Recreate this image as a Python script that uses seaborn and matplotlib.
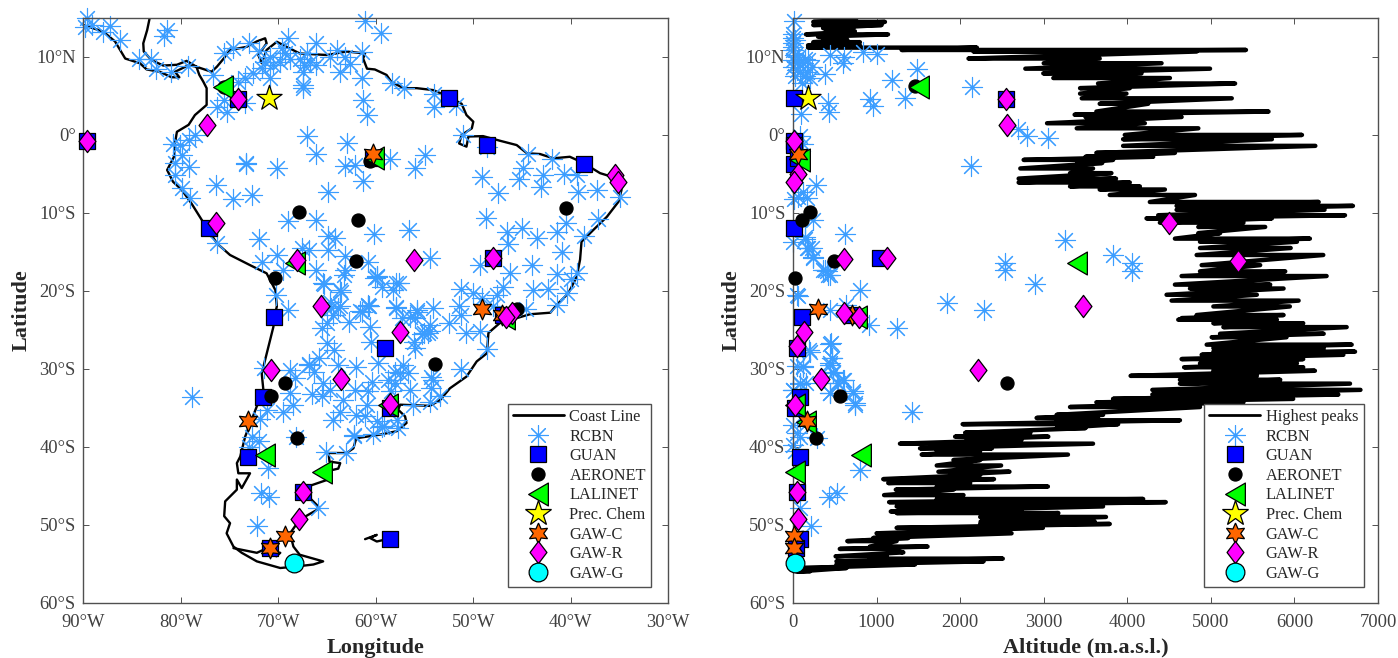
import numpy as np
import pandas as pd
import matplotlib
matplotlib.use("Agg")
import matplotlib.pyplot as plt
from matplotlib.lines import Line2D
from matplotlib.path import Path
import seaborn as sns

sns.set_theme(style="white")
plt.rcParams['font.family'] = ['Liberation Serif', 'DejaVu Serif']

# ---------- coast ----------
coast_lon = [-83.2,-83.45,-83.85,-83.8,-83,-81.8,-80.4,-79.4,-78.4,-78.1,-77.7,-77.35,-77.35,-78.55,-79.2,-80.4,-80.6,-80.7,-81.4,-80.8,-79.9,-78.9,-77.85,-76.3,-74.95,-72.9,-71.2,-70.3,-70.15,-70.4,
 -70.5,-70.5,-71,-71.7,-71.5,-72.2,-73.4,-73.9,-74.25,-74.1,-72.9,-73.75,-74.25,-74.25,-75.45,-75.55,-74.95,-75.3,-74.6,-73.75,-72.2,-69.8,-68.1,-66.4,-65.4,-67.8,-68.45,-68.8,-67.8,-66.05,-65.9,-66.9,-66.75,-65,-64.7,-63.85,-63.65,-64.75,-64.85,-63,-62.3,-62,
 -59.6,-57.85,-56.85,-57,-57.7,-57.5,-54.45,-53.4,-52.4,-50.7,-49.65,-48.6,-48.45,-47.3,-46.6,
 -45.55,-44.2,-42.1,-41.45,-40.25,-39.4,-39.05,-38.9,-37.7,-36.3,-35.1,-34.8,-35.3,-37,-38.7,-40.1,-41.8,-43.15,-44.5,-45.55,-47.25,-49,-50.5,-50.7,-51.45,-51.2,-50.15,-50,-50.7,-51.2,-52.55,-54.1,-55.8,-57.15,-58.4,-58.9,-60.1,-60.9,-61.3,
 -61.1,-63,-65,-67.8,-69.15,-70.15,-71.2,-71.7,-72.05,-71.2,-71.35,-72.2,-73.25,-74.95,-75.6,-76.3,-76.85,-78.4]
coast_lat = [14.95,13.45,11.75,10.7,9.6,8.9,9,9.5,8.75,7.7,6.85,6,3.85,2.55,1.3,0.4,-1.1,-2.8,-4.5,-6,-7.05,-8.8,-10.9,-13.9,-15.4,-16.7,-17.75,-19.9,-22,-23.3,
 -23.7,-24.6,-27.1,-30.6,-33.1,-34.8,-38.7,-41.25,-42.1,-43.4,-43.4,-45.3,-44.2,-45.5,-47,-48.9,-49.8,-51.1,-52.8,-53.6,-54.7,-55.55,-55.35,-55.1,-54.7,-53.85,-52.8,-51.1,-49.35,-48.1,-47.65,-46.4,-45,-44.25,-43.05,-42.8,-42.1,-41.9,-40.8,-40.8,-40.2,-38.9,
 -38.45,-38,-36.95,-36.1,-35.25,-34.6,-34.75,-34,-32.5,-31,-29.05,-28,-25.4,-24.15,-23.7,
 -23.5,-23,-22.8,-21.8,-20.3,-18.2,-16,-13.7,-12.2,-10.5,-8.55,-7.05,-5.55,-4.9,-3.6,-2.8,-3,-2.45,-2.35,-1.3,-0.75,-0.15,-0.2,-1.5,-1.1,0,0.85,1.7,2.55,4,4.9,5.75,6,6,6.8,7.7,8.4,8.5,9.8,
 10.45,10.7,10.25,10.45,11.3,11.95,10.9,9.2,10.25,11.75,12.4,12,11.3,10.9,9.8,8.75,8.1,8.75]
pacific_lon = [-90,-87.95,-86.75,-85.7,-84.2,-83.5,-82.15,-80.95,-80.15,-80.6,-79.2,-78.4]
pacific_lat = [14.1,13.25,12,9.8,9.2,8.4,8.1,7.4,7.4,8.1,8.95,8.75]
falkland_lon = [-61.1,-59.9,-60.6,-59.9,-59.2]
falkland_lat = [-51.85,-51.3,-51.7,-52.15,-51.95]
strait_lon = [-74.6,-72.2,-71.5,-69.8,-70.2]
strait_lat = [-53,-53.6,-53.2,-53.6,-54.05]

# ---------- highest peaks: latitude rows with low / high altitude ----------
peak_lat = [14.7,14.5,14.1,13.7,13.3,12.9,12.6,12.2,11.9,11.5,11.2,10.9,10.7,9.8,9.2,8.5,7.9,7.3,6.6,6.0,5.3,4.7,4.0,3.0,2.6,2.3,1.5,0.85,0.0,-0.55,-1.4,-2.3,-2.8,-3.2,-3.6,-4.3,-4.9,-5.6,-6.1,-6.6,-7.0,-7.7,-8.6,-9.1,-9.6,-10.3,-10.7,-11.25,-11.8,-12.6,-13.3,-13.7,-14.5,-15.4,-16.7,-17.5,-18.1,-19.2,-19.7,-20.5,-21.25,-22.0,-23.1,-23.5,
 -23.7,-24.15,-24.65,-25.5,-25.95,-26.9,-27.35,-27.8,-28.2,-28.75,-29.3,-29.8,-30.25,-30.9,-31.4,-31.9,-32.7,-33.3,-33.85,-34.3,-34.9,-35.9,-36.3,-36.6,-37.1,-37.6,-38.2,-38.7,-39.1,-39.6,-40.2,-40.5,-41.0,-41.7,-42.4,-43.2,-43.6,-44.15,-44.65,-45.1,-45.5,-46.2,-46.7,-47.1,-47.65,-48.3,-48.5,-49.0,-49.6,-49.9,-50.4,-51.1,-51.7,-52.1,-52.8,-53.1,-53.55,-54.05,-54.35,-54.7,-55.1,-55.55,-56]
peak_low = [523,243,243,360,400,155,300,360,243,180,180,1300,2160,2100,3000,2780,2995,3115,3650,3435,3435,3455,3670,3630,3370,3500,3040,3395,3970,3950,3950,3630,3500,2760,3400,2720,3315,2700,2700,3315,3670,3790,4270,4590,4590,4370,4230,4390,4850,4850,4570,4870,4870,4830,4890,4870,4650,4570,4750,4470,4530,5030,4830,4650,
 4610,5030,5150,5110,5010,4950,5030,5030,4890,4650,4870,4680,5030,4040,4630,4630,4300,4300,3830,3630,3315,3155,2915,3155,2030,3155,2060,1940,2080,1280,1520,1720,1540,1920,1720,1740,1880,1080,1140,1720,1230,1090,1720,1150,1240,1170,1240,2240,2245,2240,1240,1000,960,650,920,560,1320,510,920,520,520,125,45]
peak_high = [755,1100,1060,720,740,1137,520,650,800,800,2200,5420,4830,3670,4410,4990,4170,4510,5290,4030,3990,5250,4250,5690,4100,4650,4210,4850,6090,5730,6250,4570,4310,3830,3700,3590,3810,3865,4030,4150,4450,4810,6290,6700,6360,6605,5730,5390,5650,5110,6185,6030,5955,6345,5590,5890,6385,5710,5870,5550,6050,5945,5870,5770,
 5790,6105,6625,6350,5905,6685,6350,6725,6585,6105,6030,6105,6245,5550,5830,6665,6790,6525,5985,5390,4870,3710,3650,4630,3890,3500,2840,3055,2735,3590,2380,2240,3290,2240,2490,2590,2240,2405,2120,3050,1920,2040,4190,4460,3710,2735,3175,3745,3610,3790,2990,2615,1380,1240,1610,1120,1310,1120,2510,2280,1460,640,200]

# ---------- RCBN ----------
rcbn_lon = [-89.65,-89.8,-89.1,-87.3,-88,-86.2,-81.4,-81.7,-84.3,-83.1,-82.5,-81,-79.3,-76.7,-75.6,-74.6,-73,-69,-66.1,-64,-61.45,-61.1,-59.5,-72,-69.65,-70.85,-71.4,-70.5,-69.8,-68.8,-69.3,-67.8,-67.1,-66.75,-67.4,-66.1,-64.7,-63.2,-62.65,-63.7,-61.45,-67.5,-67.5,-67.5,-70.85,-71.7,-72.6,-73.4,-74.1,-76.3,-75.3,-75.6,-73.4,-61.3,-60.95,
 -78.55,-79.2,-80.1,-80.8,-79.9,-80.6,-79.2,-80.6,-79.9,-79.1,-67.1,-63,-66.1,-73.35,-73.35,-70.1,-63.15,-62.1,-61.35,-64.9,-76.4,-74.6,-72.7,-69,-66.1,-72,-64.9,-64.2,-60.15,-76.3,-70.15,-67.6,-66.9,-64.9,-63.2,-60.8,-71.7,-69.5,-66.1,-63.15,-63.3,-65.3,-63.55,-60.1,-70.2,-69,-64.55,-63.7,-61.45,-60.75,
 -58.3,-57.1,-54,-54,-51.8,-51.1,-48.6,-44.35,-55,-58.5,-56,-49.1,-47.5,-44.9,-45.3,-42.9,-43.1,-41.95,-40.7,-39.4,-39.3,-37.3,-34.95,-37.2,-38.65,-40.5,-41.4,-40.9,-48.7,-46.5,-45,-43.5,-46.4,-44,-49.3,-46.2,-41.45,-39.4,-40,-47,-43.9,-42.3,-40.4,-41.45,-51.25,-50,-49.1,-47.6,-47.95,-44.6,-51.45,-51.25,
 -56.55,-54.4,-59.9,-59.4,-58.2,-57.9,-57.6,-60.7,-57.9,-55.8,-54.1,-57.35,-56.5,
 -65.4,-63.7,-59.85,-64.7,-63.85,-64.35,-61.6,-60.75,-57.95,-62.8,-60.6,-65.55,-65.05,-60.5,-65.05,-55.8,-56,-54.45,-55.3,-56.05,
 -64.3,-65.8,-66.9,-66.35,-68.8,-68.3,-68.8,-68.45,-69.55,-65.4,-66.5,-65.5,-64.7,-63.85,-62,-59.75,-56,-62.1,-60.4,-60.85,-63.35,-60.95,-63.7,-64.35,-62,-61.1,-59.9,-59.2,-60.25,-62.2,-57.85,-57.2,-58,-56.65,-58,-56.5,-58.4,-54.1,-54.3,-54.45,-56.15,-57.5,-58.7,
 -50.7,-49.3,-48.55,-52.45,-54.4,-54.6,-55.1,-51.25,-54.3,-53.4,-57.7,-59.4,
 -78.9,-71.5,-66.9,-71.9,-71.2,-72.7,-72,-73.05,-68.2,-71.1,-71.8,-71,-72.15,-65.9,-65.1,-63.05,-62.2]
rcbn_lat = [14.95,13.9,14.1,14,13.15,12.2,13.4,12.7,9.8,9.8,8.4,8.1,8.85,7.7,10.5,11.1,11.75,12.4,11.8,10.9,10.7,14.65,13.1,10.8,11.1,10.05,9.4,9,9.4,9.8,10.5,9.8,10.5,9.4,9,9,10,10,9.05,8.1,7.35,8.1,6,6.4,7.3,8.55,7.9,7.3,6.8,3.6,3,4.5,4.05,4.5,2.55,
 0,-0.65,-1.3,-1.1,-2.6,-3.6,-4.1,-5.15,-6.85,-8.1,-0.1,-1,-2.5,-3.65,-3.7,-4.3,-4,-3.85,-5.85,-7.3,-6.4,-8.2,-7.7,-11.1,-10.9,-13.4,-13,-13.25,-12.75,-13.9,-15.4,-14.5,-14.75,-14.75,-15.5,-16.25,-16.25,-17.3,-17.3,-17.3,-18,-19.15,-20.1,-18.4,-20.5,-22.4,-22.25,-22,-22.65,-21.9,
 6.6,6,5.3,3.6,3.85,0,-1.5,-2.45,-2.6,-3.1,-4.3,-5.45,-7.4,-4.2,-5.65,-5.15,-6.7,-3.1,-5.05,-5.15,-7.3,-7.05,-7.9,-10.8,-13,-11.25,-12.5,-15,-10.7,-12.4,-12,-13.25,-14,-16.7,-16.7,-17.75,-17.8,-17.75,-18.5,-19.45,-19.9,-19.8,-20.3,-21.8,-19.7,-20.3,-20.95,-20.5,-22,-22.35,-22,-23.1,
 -12.2,-15.8,-18.2,-19.45,-19.9,-19,-18.95,-21.9,-22.25,-22.65,-22.25,-23.5,-23.3,
 -19,-19.9,-18.15,-21.4,-22.2,-23.1,-22.6,-21.8,-22.1,-24,-24.65,-24.8,-24.15,-26.5,-26.7,-22.4,-23.5,-25.2,-25.5,-26.5,
 -27.55,-28.6,-29.5,-30.4,-30.2,-31.2,-33.1,-34.6,-35.5,-31.85,-33.25,-33.55,-32.7,-29.5,-29.8,-29.3,-27.35,-32.7,-31.7,-32.9,-34.05,-34.6,-35.6,-36.55,-35.9,-36.1,-36.75,-37.3,-38.35,-38.65,-36.55,-29.5,-30.35,-30.55,-31.85,-32.7,-32.9,-31.4,-32.5,-34.2,-34.7,-30.55,-31.4,
 -25.4,-25.2,-27.5,-24.15,-24.35,-25.4,-25.4,-30,-31,-33.5,-37.6,-37.4,
 -33.6,-29.9,-29.4,-36.5,-35.3,-38.7,-39.3,-40,-38.8,-42.7,-45.9,-46.5,-50.2,-47.8,-40.7,-40.8,-38.5]
rcbn_alt = [12,5,5,5,24,44,124,184,224,84,144,383,443,610,595,834,1001,1480,1181,1340,922,954,423,435,92,2146,2697,2797,3056,2130,275,124,12,164,244,622,4,144,184,244,383,423,802,44,1848,2290,2896,2537,2537,3255,3833,4060,4060,640,
 0,24,0,64,5,0,44,164,204,104,24,144,84,124,64,
 144,164,223,243,403,443,363,64,443,914,1240,451,195,462,443,124,44,482,602,443,722,742,522,84,4,155,
 204,443,463,443,124,483,610,543,443,722,742,1428,84,4,84,283,0,24,802,435,523,212,84,0,44]
rcbn_alt_lat = [14.65,12.4,11.75,10.9,10.25,9.4,9.2,9.6,8.75,8.1,7.5,7.8,10.25,10,9.2,10.7,10.4,8.5,7,4.7,4.6,3.7,4.05,3,2.75,6.1,0.7,-0.1,-0.45,-4,-6.4,-7.3,-8.2,-8.1,-10.9,-12.75,-13.7,-13.3,-14.5,-15.6,-17.3,-18,-19.9,-20.5,-21.5,-22.45,-19.1,-16.45,-17.3,-13.5,-15.4,-16.45,-17.5,-21.8,
 13,12.2,11.3,10,9.6,8.75,8.3,8.1,7.25,6.6,7.5,9.8,-0.2,-1.1,-7.9,
 -13.1,-14.5,-14.5,-15.8,-17.5,-18,-17.3,-20.6,-22.4,-24.4,-24.8,-26.7,-27.65,-28.6,-29.5,-29.8,-29.7,-30.6,-31.4,-33.1,-33.1,-34.4,-31.8,-32,-32.7,-31.8,
 -27.8,-26.8,-28.6,-29.3,-29.7,-30.35,-31.4,-31.8,-33.1,-32.9,-34.6,-35.5,-31.8,-32.7,-38.7,-38.9,-39.75,-40.6,-42.95,-46.5,-45.95,-50.2,-47.9,-37.2,-38.25]

# ---------- station networks ----------
guan_lon = [-89.6,-52.46,-48.6,-38.6,-74.1,-77.1,-70.4,-60.3,-48,-47,-59.1,-58.5,-58.5,-71.6,-73.1,-67.5,-70.9]
guan_lat = [-0.8,4.8,-1.3,-3.7,4.65,-11.9,-23.4,-2.9,-15.8,-23.1,-27.3,-35,-51.8,-33.6,-41.3,-45.8,-53]
guan_alt = [12,10,14,15,2550,12,112,60,1040,700,44,25,84,84,84,52,36]

aero_lon = [-67.9,-61.8,-62,-70.3,-45.5,-53.9,-69.3,-70.7,-68.1,-40.5,-60.6,-75.6]
aero_lat = [-9.9,-10.9,-16.2,-18.4,-22.3,-29.4,-31.8,-33.5,-38.9,-9.4,-3.4,6.2]
aero_alt = [204,112,495,24,563,2557,275,1460]
aero_alt_lat = [-9.9,-10.9,-16.2,-18.4,-33.5,-31.8,-38.9,6.3]

lali_lon = [-75.7,-68.3,-71.4,-65.5,-60.2,-46.7,-58.7]
lali_lat = [6.1,-16.4,-41,-43.2,-2.9,-23.5,-34.6]
lali_alt = [1510,3395,810,25,84,770,20,150]
lali_alt_lat = [6.2,-16.4,-41,-43.2,-3.2,-23.3,-34.6,-36.8]

prec_lon = [-71]
prec_lat = [4.7]
prec_alt = [184]

gawc_lon = [-60.25,-49.1,-47.1,-73.1,-69.3,-70.9]
gawc_lat = [-2.45,-22.35,-23.1,-36.75,-51.5,-53]
gawc_alt = [56,303,700,164,12,12]

gawr_lon = [-89.6,-74.1,-77.3,-76.4,-68.1,-65.65,-56.05,-48,-46,-46.6,-35.5,-35.2,-57.5,-58.5,-70.7,-63.6,-67.5,-67.9]
gawr_lat = [-0.8,4.65,1.3,-11.25,-16.1,-22,-16,-15.8,-22.9,-23.4,-5.1,-6,-25.3,-34.5,-30.1,-31.3,-45.8,-49.2]
gawr_alt = [12,2545,2560,4500,610,5320,1130,3466,610,794,64,12,136,44,20,2218,335,52,64]
gawr_alt_lat = [-0.8,4.65,1.3,-11.3,-15.95,-16.15,-15.8,-22,-22.9,-23.3,-5,-6,-25.3,-27.1,-34.6,-30.1,-31.3,-45.8,-49.2]

gawg_lon = [-68.4]
gawg_lat = [-54.9]
gawg_alt = [24]

x_ticks_lon = [-90,-80,-70,-60,-50,-40,-30]
x_lon_labels = ['90°W','80°W','70°W','60°W','50°W','40°W','30°W']
y_ticks = [10,0,-10,-20,-30,-40,-50,-60]
y_labels = ['10°N','0°','10°S','20°S','30°S','40°S','50°S','60°S']
x_ticks_alt = [0,1000,2000,3000,4000,5000,6000,7000]

# ---------- styles ----------
W, H = 1398, 658
DIAMOND = Path([(-0.38,0),(0,0.5),(0.38,0),(0,-0.5),(-0.38,0)], closed=True)
TRIANGLE = Path([(0.43,0.5),(-0.43,0),(0.43,-0.5),(0.43,0.5)], closed=True)
ASTER = (8, 2, 0)
HEXA = (6, 1, 0)
BLUE = '#3B9DFF'
styles = {
    'GUAN': dict(marker='s', color='#0000FF', ms=11),
    'AERONET': dict(marker='o', color='#000000', ms=9.4),
    'LALINET': dict(marker=TRIANGLE, color='#00FF00', ms=16.5),
    'Prec. Chem': dict(marker='*', color='#FFFF00', ms=19),
    'GAW-C': dict(marker=HEXA, color='#FF6600', ms=15),
    'GAW-R': dict(marker=DIAMOND, color='#FF00FF', ms=16),
    'GAW-G': dict(marker='o', color='#00FFFF', ms=13.5),
}
EDGE_W = 0.9

fig = plt.figure(figsize=(W/100, H/100), dpi=100)
ax1 = fig.add_axes([83.3/W, 1-602.7/H, 585/W, 584.7/H])
ax2 = fig.add_axes([793/W, 1-602.7/H, 585/W, 584.7/H])

def mark(ax, x, y, name):
    st = styles[name]
    sns.scatterplot(x=list(x), y=list(y), ax=ax, marker=st['marker'], color=st['color'],
                    s=st['ms']**2, edgecolor='black', linewidth=EDGE_W, clip_on=False,
                    legend=False, zorder=3)

def aster(ax, x, y):
    sns.scatterplot(x=list(x), y=list(y), ax=ax, marker=ASTER, color=BLUE, s=14.5**2,
                    linewidth=0.8, clip_on=False, legend=False, zorder=2.5)

def trace(ax, x, y, lw):
    sns.lineplot(x=list(x), y=list(y), ax=ax, sort=False, estimator=None, color='black',
                 linewidth=lw, legend=False, zorder=2)

# left panel
trace(ax1, coast_lon, coast_lat, 1.7)
trace(ax1, pacific_lon, pacific_lat, 1.7)
trace(ax1, falkland_lon, falkland_lat, 1.7)
trace(ax1, strait_lon, strait_lat, 1.7)
aster(ax1, rcbn_lon, rcbn_lat)
for nm, xs, ys in [('GUAN', guan_lon, guan_lat), ('AERONET', aero_lon, aero_lat),
                   ('LALINET', lali_lon, lali_lat), ('Prec. Chem', prec_lon, prec_lat),
                   ('GAW-C', gawc_lon, gawc_lat), ('GAW-R', gawr_lon, gawr_lat),
                   ('GAW-G', gawg_lon, gawg_lat)]:
    mark(ax1, xs, ys, nm)

# right panel
peak_x = np.column_stack([peak_low, peak_high]).ravel()
peak_y = np.repeat(peak_lat, 2)
trace(ax2, peak_x, peak_y, 3.2)
aster(ax2, rcbn_alt, rcbn_alt_lat)
for nm, xs, ys in [('GUAN', guan_alt, guan_lat), ('AERONET', aero_alt, aero_alt_lat),
                   ('LALINET', lali_alt, lali_alt_lat), ('Prec. Chem', prec_alt, prec_lat),
                   ('GAW-C', gawc_alt, gawc_lat), ('GAW-R', gawr_alt, gawr_alt_lat),
                   ('GAW-G', gawg_alt, gawg_lat)]:
    mark(ax2, xs, ys, nm)

SPINE = '#505050'
TXT = '#404040'
for ax in (ax1, ax2):
    ax.set_ylim(-60, 15)
    ax.set_yticks(y_ticks)
    ax.set_yticklabels(y_labels)
    ax.tick_params(direction='in', length=4.5, width=0.7, color=SPINE, labelcolor=TXT,
                   labelsize=13.3, top=True, right=True, bottom=True, left=True)
    ax.tick_params(axis='x', pad=8)
    ax.tick_params(axis='y', pad=5.5)
    for s in ax.spines.values():
        s.set_color(SPINE)
        s.set_linewidth(1.0)
        s.set_visible(True)
    ax.set_ylabel('Latitude', fontsize=16, fontweight='bold', color='#262626', labelpad=3)
    ax.set_facecolor('white')

ax1.set_xlim(-90, -30)
ax1.set_xticks(x_ticks_lon)
ax1.set_xticklabels(x_lon_labels)
ax1.set_xlabel('Longitude', fontsize=16, fontweight='bold', color='#262626', labelpad=5)
ax2.set_xlim(0, 7000)
ax2.set_xticks(x_ticks_alt)
ax2.set_xticklabels([str(v) for v in x_ticks_alt])
ax2.set_xlabel('Altitude (m.a.s.l.)', fontsize=16, fontweight='bold', color='#262626', labelpad=5)

def legend_for(ax, first, left_px):
    hs = [Line2D([], [], color='black', lw=2.0, label=first),
          Line2D([], [], ls='none', marker=ASTER, color=BLUE, ms=14.5, mew=0.8, label='RCBN')]
    for nm in ['GUAN', 'AERONET', 'LALINET', 'Prec. Chem', 'GAW-C', 'GAW-R', 'GAW-G']:
        st = styles[nm]
        hs.append(Line2D([], [], ls='none', marker=st['marker'], mfc=st['color'], mec='black',
                         mew=EDGE_W, ms=st['ms'], label=nm))
    leg = ax.legend(handles=hs, loc='lower left', bbox_to_anchor=(left_px/W, 1-587/H),
                    bbox_transform=fig.transFigure, borderaxespad=0, fancybox=False,
                    framealpha=1, edgecolor=SPINE, fontsize=11.8, handlelength=3.1,
                    handletextpad=0.35, labelspacing=0.22, borderpad=0.32)
    leg.get_frame().set_linewidth(1.0)
    leg.set_zorder(5)
    for t in leg.get_texts():
        t.set_color('#262626')

legend_for(ax1, 'Coast Line', 507.7)
legend_for(ax2, 'Highest peaks', 1204)

fig.savefig('out.png', dpi=100, facecolor='white')
